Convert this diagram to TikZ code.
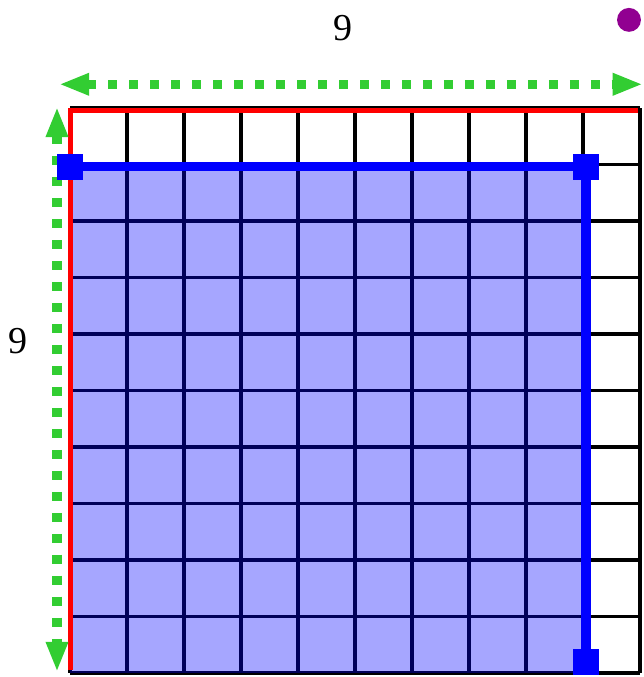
\documentclass[tikz,border=0pt]{standalone}
\usepackage{fontspec}
\setmainfont{Liberation Serif}
\usetikzlibrary{arrows.meta}

\definecolor{dotgreen}{RGB}{50,205,50}
\definecolor{dotpurple}{RGB}{145,0,145}

\begin{document}
\begin{tikzpicture}[x=1cm, y=0.9912cm,
    gridline/.style={line width=0.065cm, black},
    redline/.style={line width=0.09cm, red},
    blueline/.style={line width=0.165cm, blue},
    corner/.style={rectangle, fill=blue, minimum size=0.46cm, inner sep=0pt},
    measure/.style={line width=0.158cm, dotgreen, dash pattern=on 0.158cm off 0.21cm,
        {Triangle[length=0.53cm, width=0.36cm]}-{Triangle[length=0.53cm, width=0.36cm]}},
    numlabel/.style={font=\fontsize{19}{22}\selectfont, inner sep=0pt},
]
\useasboundingbox (-1.228,-0.071) rectangle (10.053,11.912);

% Grid of 10 x 10 cells
\foreach \i in {0,...,10} {
    \draw[gridline] (\i,0) -- (\i,10);
    \draw[gridline] (0,\i) -- (10,\i);
}

% Shaded 9 x 9 block
\fill[blue, opacity=0.35] (0,0) rectangle (9,9);

% Red border on top and left
\draw[redline, line join=miter] (0.01,0.05) -- (0.01,9.96) -- (9.96,9.96);

% Measurement arrows
\coordinate (hl) at (-0.193,10.42);
\coordinate (hr) at (10.05,10.42);
\draw[measure] (hl) -- (hr);
\node[numlabel] (toplabel) at (4.79,11.41) {9};

\coordinate (vt) at (-0.228,10.02);
\coordinate (vb) at (-0.228,0.018);
\draw[measure] (vt) -- (vb);
\node[numlabel] (leftlabel) at (-0.912,5.87) {9};

% Blue outline with corner markers
\node[corner] (tl) at (0,8.96) {};
\node[corner] (tr) at (9.05,8.96) {};
\node[corner] (br) at (9.05,0.195) {};
\draw[blueline] (tl.center) -- (tr.center) -- (br.center);
\node[corner] at (tl) {};
\node[corner] at (tr) {};
\node[corner] at (br) {};

% Dot in the corner
\node[circle, fill=dotpurple, minimum size=0.42cm, inner sep=0pt] (dot) at (9.807,11.56) {};

\end{tikzpicture}
\end{document}
